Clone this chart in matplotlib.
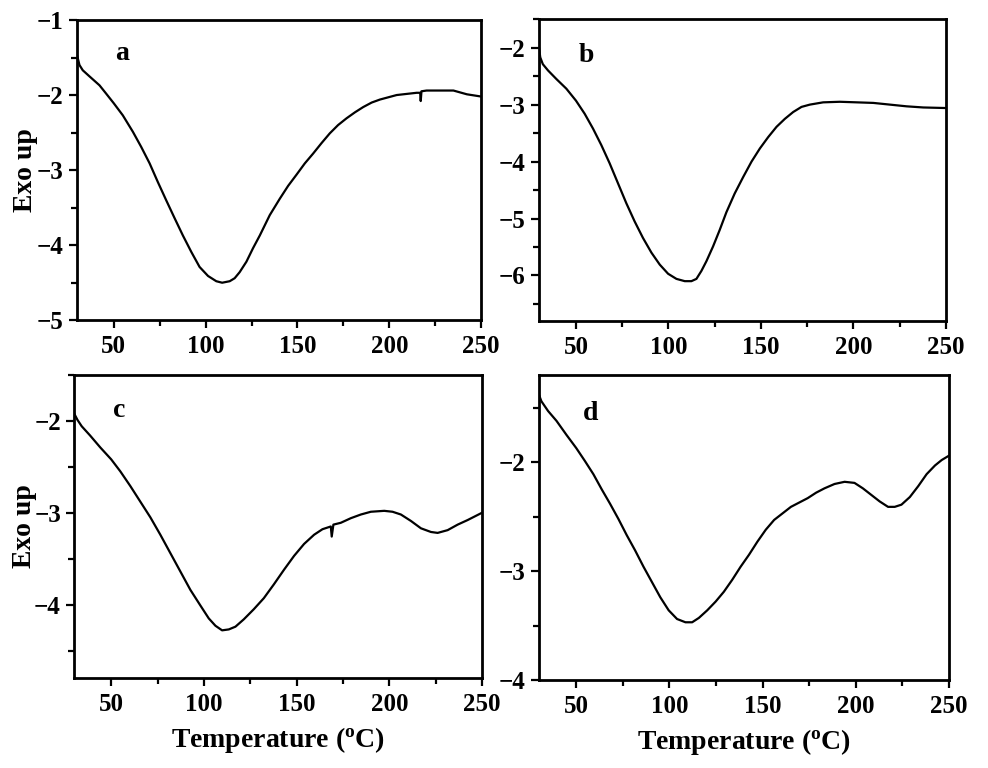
import numpy as np
import matplotlib
matplotlib.use("Agg")
import matplotlib.pyplot as plt
from matplotlib.ticker import MultipleLocator

plt.rcParams['font.family'] = ['Liberation Serif', 'DejaVu Serif']
plt.rcParams['font.weight'] = 'bold'
plt.rcParams['mathtext.fontset'] = 'custom'
plt.rcParams['mathtext.rm'] = 'Liberation Serif:bold'
plt.rcParams['mathtext.bf'] = 'Liberation Serif:bold'

# DSC curves (temperature in degC, heat flow, exo up)
temp_a = [30, 31.3, 33.1, 36.7, 42.2, 45.8, 50, 54.9, 60.4, 64.9, 69.5, 74, 78.5, 83.1,
          87.6, 92.2, 96.7, 101.3, 105.8, 109, 113.1, 115.8, 118.5, 122.2, 125.8,
          129.5, 134.9, 140.4, 144.9, 149.5, 154, 158.5, 163.1, 167.6, 172.1,
          176.7, 181.3, 185.8, 190.4, 194.9, 204, 214.9, 216.8, 217.1, 217.5, 220.3,
          234.9, 242.2, 250]
flow_a = [-1.47, -1.60, -1.67, -1.75, -1.87, -1.98, -2.11, -2.27, -2.49, -2.69, -2.91,
          -3.16, -3.40, -3.64, -3.87, -4.09, -4.29, -4.41, -4.48, -4.50, -4.48, -4.44,
          -4.36, -4.22, -4.04, -3.87, -3.60, -3.38, -3.21, -3.06, -2.91, -2.78,
          -2.64, -2.51, -2.40, -2.31, -2.23, -2.16, -2.10, -2.06, -2.00, -1.97, -1.97,
          -2.08, -1.95, -1.94, -1.94, -1.99, -2.02]

temp_b = [30, 30.7, 32.1, 34.9, 39.4, 44.8, 50, 54.7, 59.2, 63.7, 68.2, 72.7, 77.2,
          81.7, 86.2, 90.8, 95.3, 99.8, 104.3, 108.8, 112.4, 115.1, 117.8, 120.5, 124.1,
          127.7, 131.3, 135.8, 140.4, 144.9, 149.4, 153.9, 158.4, 162.9, 167.4, 171.9,
          176.4, 183.6, 192.6, 201.7, 210.7, 219.7, 228.7, 237.7, 250]
flow_b = [-1.99, -2.17, -2.29, -2.40, -2.55, -2.72, -2.93, -3.16, -3.42, -3.71, -4.03,
          -4.38, -4.73, -5.05, -5.34, -5.60, -5.81, -5.97, -6.06, -6.10, -6.10, -6.06,
          -5.92, -5.75, -5.49, -5.20, -4.89, -4.56, -4.27, -4.00, -3.77, -3.57, -3.39,
          -3.25, -3.13, -3.04, -3.00, -2.96, -2.95, -2.96, -2.97, -3.00, -3.03, -3.05,
          -3.06]

temp_c = [30, 31.8, 34.1, 38.6, 44.1, 50, 54.9, 60.3, 65.7, 71.1, 76.5, 81.9, 87.3,
          92.7, 98.1, 102.6, 106.2, 109.8, 113.4, 117, 121.5, 126.9, 132.3, 137.7, 143.2,
          148.6, 154, 159.4, 163.9, 168.4, 168.9, 169.8, 173.8, 179.2, 184.6, 190, 197.2,
          201.7, 206.2, 211.6, 217, 222.4, 226, 231.4, 236.8, 242.2, 250]
flow_c = [-1.92, -1.99, -2.06, -2.16, -2.29, -2.42, -2.55, -2.71, -2.88, -3.05, -3.24,
          -3.44, -3.64, -3.84, -4.01, -4.15, -4.23, -4.28, -4.27, -4.24, -4.16, -4.05,
          -3.93, -3.78, -3.62, -3.47, -3.34, -3.24, -3.18, -3.15, -3.26, -3.13, -3.11,
          -3.06, -3.02, -2.99, -2.98, -2.99, -3.02, -3.09, -3.17, -3.21, -3.22, -3.19,
          -3.13, -3.08, -3.00]

temp_d = [30, 31.3, 34.9, 39.4, 44.8, 50, 54.7, 59.2, 63.7, 68.1, 72.6, 77.1, 81.6,
          86.1, 90.6, 95.1, 99.6, 104.1, 108.6, 112.2, 115.8, 120.3, 124.8, 129.2, 133.7,
          138.2, 142.7, 147.2, 151.7, 156.2, 160.7, 165.2, 169.7, 174.2, 178.7, 183.2,
          188.6, 194, 199.3, 203.8, 208.3, 212.8, 217.3, 220.9, 224.5, 229, 233.5, 238,
          242.5, 246.1, 250]
flow_d = [-1.38, -1.44, -1.53, -1.62, -1.75, -1.87, -1.99, -2.11, -2.25, -2.38, -2.52,
          -2.67, -2.81, -2.96, -3.10, -3.24, -3.36, -3.44, -3.47, -3.47, -3.43, -3.36,
          -3.28, -3.19, -3.08, -2.96, -2.85, -2.73, -2.62, -2.53, -2.47, -2.41, -2.37,
          -2.33, -2.28, -2.24, -2.20, -2.18, -2.19, -2.24, -2.30, -2.36, -2.41, -2.41,
          -2.39, -2.32, -2.22, -2.11, -2.03, -1.98, -1.94]

panels = [
    ('a', temp_a, flow_a, (-5, -1), [0.078, 0.583, 0.409, 0.391], (0.094, 0.867), -1),
    ('b', temp_b, flow_b, (-6.8, -1.5), [0.5455, 0.582, 0.412, 0.393], (0.098, 0.859), 0),
    ('c', temp_c, flow_c, (-4.8, -1.5), [0.075, 0.117, 0.413, 0.395], (0.096, 0.862), -2),
    ('d', temp_d, flow_d, (-4, -1.2), [0.5455, 0.1146, 0.415, 0.397], (0.107, 0.852), 0),
]

fig = plt.figure(figsize=(9.88, 7.68), dpi=100)

for name, t, f, ylim, rect, lab, ypad in panels:
    ax = fig.add_axes(rect)
    ax.plot(t, f, color='black', lw=1.6)
    ax.set_xlim(30, 250)
    ax.set_ylim(*ylim)
    ax.xaxis.set_major_locator(MultipleLocator(50))
    ax.xaxis.set_minor_locator(MultipleLocator(25))
    ax.yaxis.set_major_locator(MultipleLocator(1))
    ax.yaxis.set_minor_locator(MultipleLocator(0.5))
    ax.tick_params(which='major', direction='out', length=6, width=1.6, labelsize=18)
    ax.tick_params(which='minor', direction='out', length=4, width=1.6)
    ax.tick_params(axis='x', which='major', pad=4.5)
    for sp in ax.spines.values():
        sp.set_linewidth(2.0)
    ax.text(lab[0], lab[1], name, transform=ax.transAxes, fontsize=20,
            fontweight='bold', va='baseline')
    if name in ('a', 'c'):
        ax.set_ylabel('Exo up', fontsize=20, fontweight='bold', labelpad=ypad)
    if name in ('c', 'd'):
        ax.set_xlabel(r'Temperature ($\mathregular{^o}$C)', fontsize=20,
                      fontweight='bold', labelpad=7)

fig.savefig('out.png', dpi=100)
